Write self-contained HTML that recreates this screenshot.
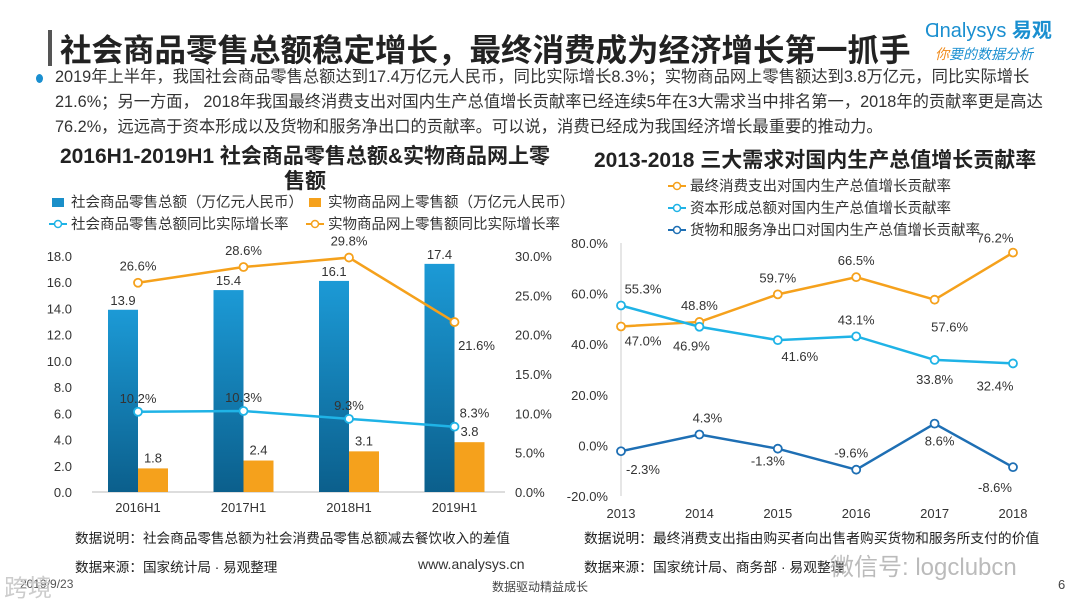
<!DOCTYPE html>
<html><head><meta charset="utf-8"><style>
body{margin:0;width:1080px;height:608px;background:#fff;overflow:hidden;font-family:"Liberation Sans","Noto Sans CJK SC",sans-serif;position:relative;color:#222}
.abs{position:absolute;white-space:nowrap}
</style></head><body>
<div class="abs" style="left:48px;top:30px;width:4px;height:36px;background:#555"></div>
<div class="abs" style="left:60px;top:25px;font-size:31.5px;font-weight:bold;color:#222">社会商品零售总额稳定增长，最终消费成为经济增长第一抓手</div>
<div class="abs" style="left:925px;top:14px;font-size:20px;color:#1a8fd0">Ɑnalysys <b>易观</b></div>
<div class="abs" style="left:935px;top:44px;font-size:14px;color:#1a8fd0;font-style:italic"><span style="color:#f08a1a">你</span>要的数据分析</div>
<div class="abs" style="left:36px;top:74px;width:7px;height:9px;border-radius:50%;background:#1a8fd0"></div>
<div class="abs" style="left:55px;top:65px;font-size:16.3px;line-height:25px;color:#333;white-space:normal;width:1020px">2019年上半年，我国社会商品零售总额达到17.4万亿元人民币，同比实际增长8.3%；实物商品网上零售额达到3.8万亿元，同比实际增长<br>21.6%；另一方面， 2018年我国最终消费支出对国内生产总值增长贡献率已经连续5年在3大需求当中排名第一，2018年的贡献率更是高达<br>76.2%，远远高于资本形成以及货物和服务净出口的贡献率。可以说，消费已经成为我国经济增长最重要的推动力。</div>
<div class="abs" style="left:20px;top:144px;width:570px;text-align:center;white-space:normal;font-size:21px;font-weight:bold;line-height:25px">2016H1-2019H1 社会商品零售总额&amp;实物商品网上零<br>售额</div>
<div class="abs" style="left:594px;top:144px;font-size:21px;font-weight:bold">2013-2018 三大需求对国内生产总值增长贡献率</div>

<svg id="c" width="1080" height="608" style="position:absolute;left:0;top:0"></svg>

<div class="abs" style="left:75px;top:527px;font-size:13.6px">数据说明：社会商品零售总额为社会消费品零售总额减去餐饮收入的差值</div>
<div class="abs" style="left:75px;top:556px;font-size:13.6px">数据来源：国家统计局 · 易观整理</div>
<div class="abs" style="left:418px;top:556px;font-size:14px;color:#333">www.analysys.cn</div>
<div class="abs" style="left:584px;top:527px;font-size:13.8px">数据说明：最终消费支出指由购买者向出售者购买货物和服务所支付的价值</div>
<div class="abs" style="left:584px;top:556px;font-size:13.8px">数据来源：国家统计局、商务部 · 易观整理</div>
<div class="abs" style="left:830px;top:547px;font-size:24px;color:#bbb">微信号: logclubcn</div>
<div class="abs" style="left:20px;top:577px;font-size:12px;color:#555">2019/9/23</div>
<div class="abs" style="left:4px;top:568px;font-size:24px;color:#ccc">跨境</div>
<div class="abs" style="left:492px;top:578px;font-size:12px;color:#444">数据驱动精益成长</div>
<div class="abs" style="left:1058px;top:577px;font-size:13px;color:#444">6</div>

<script>
const leftCats=["2016H1","2017H1","2018H1","2019H1"];
const retailTotal=[13.9,15.4,16.1,17.4];
const onlineRetail=[1.8,2.4,3.1,3.8];
const retailGrowth=[10.2,10.3,9.3,8.3];
const onlineGrowth=[26.6,28.6,29.8,21.6];
const leftTicks=[0,2,4,6,8,10,12,14,16,18];
const rightPctTicks=[0,5,10,15,20,25,30];
const years=["2013","2014","2015","2016","2017","2018"];
const consumption=[47.0,48.8,59.7,66.5,57.6,76.2];
const capital=[55.3,46.9,41.6,43.1,33.8,32.4];
const netExport=[-2.3,4.3,-1.3,-9.6,8.6,-8.6];
const rTicks=[-20,0,20,40,60,80];

const NS="http://www.w3.org/2000/svg",svg=document.getElementById("c");
function mk(t,a,txt){const e=document.createElementNS(NS,t);for(const k in a)e.setAttribute(k,a[k]);if(txt!=null)e.textContent=txt;svg.appendChild(e);return e;}
const F='"Liberation Sans","Noto Sans CJK SC",sans-serif';
const defs=mk("defs",{});
defs.innerHTML='<linearGradient id="bg" x1="0" y1="0" x2="0" y2="1"><stop offset="0" stop-color="#1c9ad6"/><stop offset="1" stop-color="#0b5f8c"/></linearGradient>';

// left chart
const ly=v=>492-v/18*236, lyp=v=>492-v/30*236, lx=i=>138+i*105.5;
mk("line",{x1:92,y1:492,x2:505,y2:492,stroke:"#bbb"});
leftTicks.forEach(t=>{const e=mk("text",{x:72,y:ly(t)+5,"text-anchor":"end","font-size":13,fill:"#333","font-family":F},t.toFixed(1));});
rightPctTicks.forEach(t=>{const e=mk("text",{x:515,y:lyp(t)+5,"font-size":13,fill:"#333","font-family":F},t.toFixed(1)+"%");});
leftCats.forEach((c,i)=>{
 const x=lx(i);
 let b=mk("rect",{x:x-30,y:ly(retailTotal[i]),width:30,height:492-ly(retailTotal[i]),fill:"url(#bg)"});
 
 b=mk("rect",{x:x,y:ly(onlineRetail[i]),width:30,height:492-ly(onlineRetail[i]),fill:"#f5a11c"});
 
 mk("text",{x:x-15,y:ly(retailTotal[i])-5,"text-anchor":"middle","font-size":13,fill:"#333","font-family":F},retailTotal[i].toFixed(1));
 mk("text",{x:x+15,y:ly(onlineRetail[i])-6,"text-anchor":"middle","font-size":13,fill:"#333","font-family":F},onlineRetail[i].toFixed(1));
 const t=mk("text",{x:x,y:512,"text-anchor":"middle","font-size":13,fill:"#333","font-family":F},c);
 
});
function series(vals,xf,yf,col,name,lab){
 const l=mk("polyline",{points:vals.map((v,i)=>xf(i)+","+yf(v)).join(" "),fill:"none",stroke:col,"stroke-width":2.5});
 
 vals.forEach((v,i)=>{const p=mk("circle",{cx:xf(i),cy:yf(v),r:4,fill:"#fff",stroke:col,"stroke-width":1.8});
  
  const o=lab[i];mk("text",{x:xf(i)+o[0],y:yf(v)+o[1],"text-anchor":"middle","font-size":13,fill:"#333","font-family":F},v.toFixed(1)+"%");});
}
series(onlineGrowth,lx,lyp,"#f5a11c","line-online-growth",[[0,-12],[0,-12],[0,-12],[22,28]]);
series(retailGrowth,lx,lyp,"#1fb3e6","line-retail-growth",[[0,-9],[0,-9],[0,-9],[20,-9]]);
function leg(x,y,type,col,txt,name){
 if(type=="bar"){mk("rect",{x:x,y:y-6,width:12,height:9,fill:col});}
 else{mk("line",{x1:x-3,y1:y-2,x2:x+15,y2:y-2,stroke:col,"stroke-width":2});mk("circle",{cx:x+6,cy:y-2,r:3.5,fill:"#fff",stroke:col,"stroke-width":1.5});}
 const t=mk("text",{x:x+19,y:y+3,"font-size":14.5,fill:"#333","font-family":F},txt);
 
}
leg(52,204,"bar","#1a8fc9","社会商品零售总额（万亿元人民币）","legend-retail-total");
leg(309,204,"bar","#f5a11c","实物商品网上零售额（万亿元人民币）","legend-online-retail");
leg(52,226,"line","#1fb3e6","社会商品零售总额同比实际增长率","legend-retail-growth");
leg(309,226,"line","#f5a11c","实物商品网上零售额同比实际增长率","legend-online-growth");

// right chart
const ry=v=>496-(v+20)/100*253, rx=i=>621+i*78.4;
mk("line",{x1:621,y1:243,x2:621,y2:496,stroke:"#ccc"});
rTicks.forEach(t=>{const e=mk("text",{x:608,y:ry(t)+5,"text-anchor":"end","font-size":13,fill:"#333","font-family":F},t.toFixed(1)+"%");});
years.forEach((y,i)=>{const e=mk("text",{x:rx(i),y:518,"text-anchor":"middle","font-size":13,fill:"#333","font-family":F},y);});
series(consumption,rx,ry,"#f5a11c","line-consumption",[[22,19],[0,-12],[0,-12],[0,-12],[15,32],[-18,-10]]);
series(capital,rx,ry,"#1fb3e6","line-capital",[[22,-12],[-8,24],[22,21],[0,-12],[0,24],[-18,27]]);
series(netExport,rx,ry,"#1e6fb4","line-net-export",[[22,23],[8,-12],[-10,17],[-5,-12],[5,22],[-18,25]]);
leg(671,188,"line","#f5a11c","最终消费支出对国内生产总值增长贡献率","legend-consumption");
leg(671,210,"line","#1fb3e6","资本形成总额对国内生产总值增长贡献率","legend-capital");
leg(671,232,"line","#1e6fb4","货物和服务净出口对国内生产总值增长贡献率","legend-net-export");
</script>
</body></html>
